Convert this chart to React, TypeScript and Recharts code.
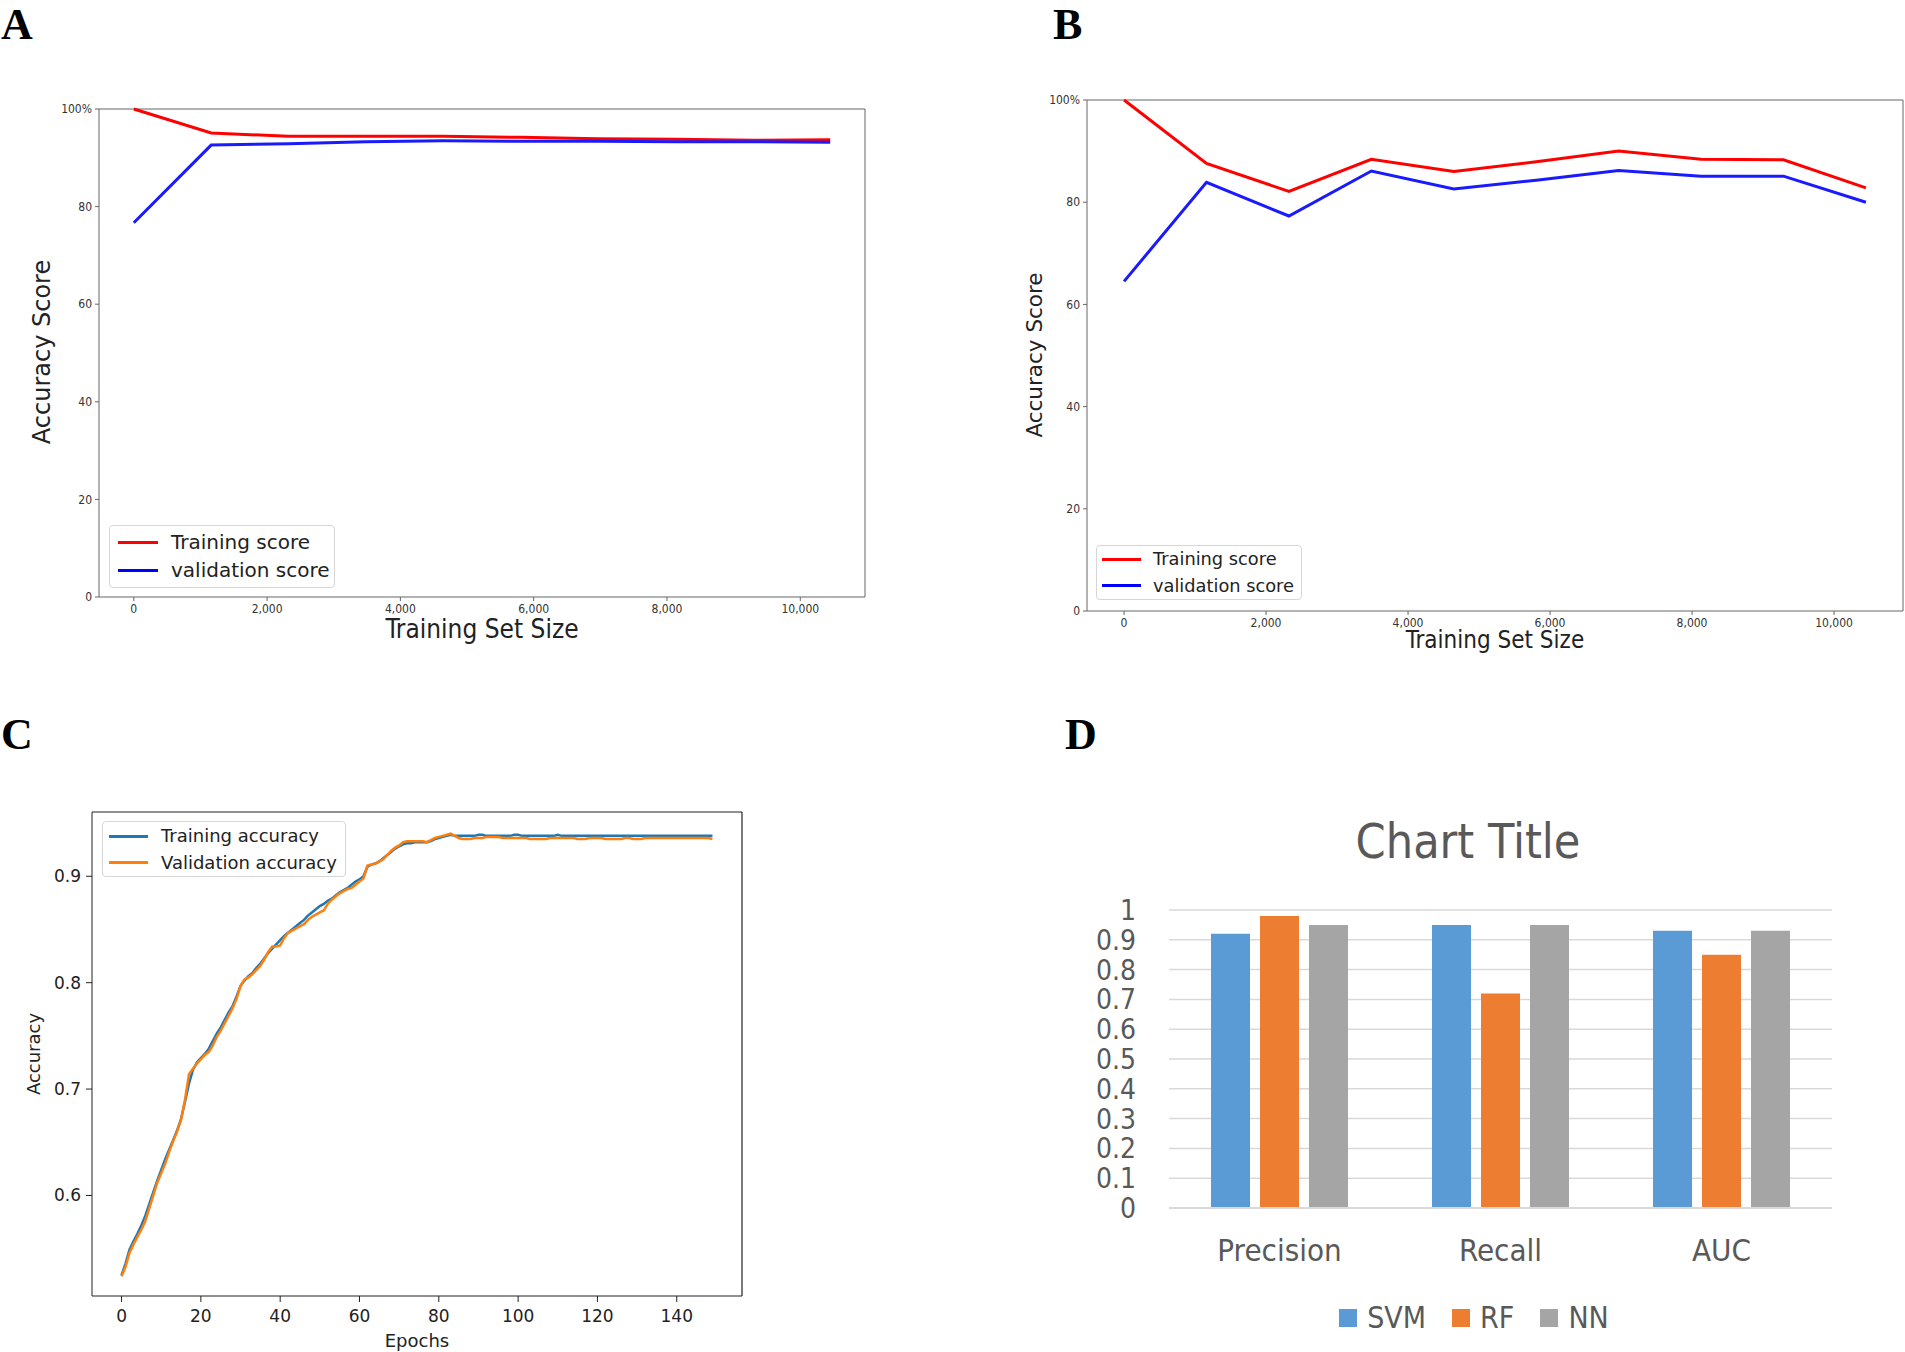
import React from 'react';
import { LineChart, Line, XAxis, YAxis, Legend, BarChart, Bar, CartesianGrid, ReferenceLine } from 'recharts';

// ---------- Panel A / B data ----------
const trainSizes = [0, 1161, 2322, 3483, 4644, 5805, 6966, 8127, 9288, 10449];
const aTraining = [100, 95.1, 94.4, 94.4, 94.4, 94.2, 93.9, 93.8, 93.6, 93.7];
const aValidation = [76.7, 92.6, 92.9, 93.3, 93.5, 93.4, 93.4, 93.3, 93.3, 93.2];
const bTraining = [100, 87.6, 82.1, 88.4, 86.0, 87.9, 90.0, 88.4, 88.3, 82.8];
const bValidation = [64.5, 83.9, 77.3, 86.1, 82.6, 84.3, 86.2, 85.1, 85.1, 80.0];
const sizeTicks = [0, 2000, 4000, 6000, 8000, 10000];
const scoreTicks = [0, 20, 40, 60, 80, 100];

// ---------- Panel C data ----------
const cTraining = [
  0.525, 0.536, 0.549, 0.557, 0.564, 0.572, 0.581, 0.592, 0.603, 0.614,
  0.624, 0.634, 0.643, 0.652, 0.661, 0.672, 0.688, 0.705, 0.718, 0.725,
  0.729, 0.733, 0.738, 0.745, 0.752, 0.758, 0.765, 0.772, 0.778, 0.787,
  0.797, 0.802, 0.806, 0.809, 0.814, 0.818, 0.823, 0.828, 0.832, 0.836,
  0.840, 0.844, 0.847, 0.850, 0.853, 0.856, 0.859, 0.863, 0.866, 0.869,
  0.872, 0.874, 0.877, 0.879, 0.882, 0.885, 0.887, 0.889, 0.892, 0.895,
  0.897, 0.900, 0.909, 0.911, 0.912, 0.914, 0.917, 0.920, 0.923, 0.926,
  0.928, 0.930, 0.931, 0.931, 0.932, 0.932, 0.932, 0.932, 0.933, 0.935,
  0.936, 0.937, 0.938, 0.939, 0.938, 0.938, 0.938, 0.938, 0.938, 0.938,
  0.939, 0.939, 0.938, 0.938, 0.938, 0.938, 0.938, 0.938, 0.938, 0.939,
  0.939, 0.938, 0.938, 0.938, 0.938, 0.938, 0.938, 0.938, 0.938, 0.938,
  0.939, 0.938, 0.938, 0.938, 0.938, 0.938, 0.938, 0.938, 0.938, 0.938,
  0.938, 0.938, 0.938, 0.938, 0.938, 0.938, 0.938, 0.938, 0.938, 0.938,
  0.938, 0.938, 0.938, 0.938, 0.938, 0.938, 0.938, 0.938, 0.938, 0.938,
  0.938, 0.938, 0.938, 0.938, 0.938, 0.938, 0.938, 0.938, 0.938, 0.938,
];
const cValidation = [
  0.524, 0.533, 0.546, 0.554, 0.561, 0.568, 0.576, 0.588, 0.600, 0.612,
  0.621, 0.630, 0.641, 0.651, 0.660, 0.671, 0.690, 0.714, 0.719, 0.724,
  0.728, 0.732, 0.735, 0.741, 0.749, 0.755, 0.762, 0.769, 0.776, 0.785,
  0.797, 0.803, 0.805, 0.808, 0.812, 0.816, 0.822, 0.829, 0.834, 0.834,
  0.835, 0.842, 0.847, 0.849, 0.851, 0.853, 0.855, 0.859, 0.862, 0.864,
  0.866, 0.868, 0.874, 0.878, 0.881, 0.884, 0.886, 0.888, 0.889, 0.892,
  0.895, 0.898, 0.910, 0.911, 0.912, 0.914, 0.916, 0.920, 0.924, 0.927,
  0.929, 0.932, 0.933, 0.933, 0.933, 0.933, 0.933, 0.932, 0.934, 0.936,
  0.937, 0.938, 0.939, 0.940, 0.938, 0.936, 0.935, 0.935, 0.935, 0.936,
  0.936, 0.936, 0.937, 0.937, 0.937, 0.937, 0.936, 0.936, 0.936, 0.936,
  0.936, 0.936, 0.936, 0.935, 0.935, 0.935, 0.935, 0.935, 0.936, 0.936,
  0.936, 0.936, 0.936, 0.936, 0.936, 0.935, 0.935, 0.935, 0.936, 0.936,
  0.936, 0.936, 0.935, 0.935, 0.935, 0.935, 0.935, 0.936, 0.936, 0.935,
  0.935, 0.935, 0.936, 0.936, 0.936, 0.936, 0.936, 0.936, 0.936, 0.936,
  0.936, 0.936, 0.936, 0.936, 0.936, 0.936, 0.936, 0.936, 0.936, 0.935,
];
const epochTicks = [0, 20, 40, 60, 80, 100, 120, 140];
const accTicks = [0.6, 0.7, 0.8, 0.9];

// ---------- Panel D data ----------
const metrics = ['Precision', 'Recall', 'AUC'];
const svmScores = [0.92, 0.95, 0.93];
const rfScores = [0.98, 0.72, 0.85];
const nnScores = [0.95, 0.95, 0.93];
const metricTicks = [0, 0.1, 0.2, 0.3, 0.4, 0.5, 0.6, 0.7, 0.8, 0.9, 1];

const aData = trainSizes.map((s, i) => ({ size: s, training: aTraining[i], validation: aValidation[i] }));
const bData = trainSizes.map((s, i) => ({ size: s, training: bTraining[i], validation: bValidation[i] }));
const cData = cTraining.map((v, i) => ({ epoch: i, training: v, validation: cValidation[i] }));
const dData = metrics.map((m, i) => ({ metric: m, SVM: svmScores[i], RF: rfScores[i], NN: nnScores[i] }));

const COND = "'DejaVu Sans Condensed', 'DejaVu Sans', sans-serif";
const DV = "'DejaVu Sans', sans-serif";
const NARROW = "'Liberation Sans Narrow', 'DejaVu Sans Condensed', sans-serif";
const SERIF = "'Liberation Serif', 'DejaVu Serif', serif";

const fmtThousands = (v: number) => v.toLocaleString('en-US');
const fmtPct = (v: number) => (v === 100 ? '100%' : String(v));
const fmtMetric = (v: number) => (v === 0 ? '0' : v === 1 ? '1' : v.toFixed(1));

type LegItem = { label: string; color: string };

function MplLegend(props: {
  items: LegItem[];
  fontSize: number;
  rowH: number;
  padTop: number;
  padLeft: number;
  lineLen: number;
  gap: number;
  font: string;
}) {
  const { items, fontSize, rowH, padTop, padLeft, lineLen, gap, font } = props;
  return (
    <div
      style={{
        width: '100%',
        height: '100%',
        boxSizing: 'border-box',
        border: '1px solid #d6d6d6',
        borderRadius: 4,
        background: 'rgba(255,255,255,0.85)',
        paddingTop: padTop,
        paddingLeft: padLeft,
      }}
    >
      {items.map((it) => (
        <div key={it.label} style={{ display: 'flex', alignItems: 'center', height: rowH }}>
          <div style={{ width: lineLen, height: 3, background: it.color }} />
          <span
            style={{
              marginLeft: gap,
              fontSize,
              fontFamily: font,
              color: '#222',
              lineHeight: 1,
              whiteSpace: 'nowrap',
            }}
          >
            {it.label}
          </span>
        </div>
      ))}
    </div>
  );
}

function CenterText(props: {
  x: number;
  y: number;
  text: string;
  size: number;
  font: string;
  color?: string;
  rotate?: boolean;
}) {
  const { x, y, text, size, font, color, rotate } = props;
  return (
    <div
      style={{
        position: 'absolute',
        left: x,
        top: y,
        transform: `translate(-50%, -50%)${rotate ? ' rotate(-90deg)' : ''}`,
        fontSize: size,
        fontFamily: font,
        color: color || '#222',
        whiteSpace: 'nowrap',
        lineHeight: 1,
      }}
    >
      {text}
    </div>
  );
}

function PanelLetter(props: { x: number; y: number; text: string }) {
  return (
    <div
      style={{
        position: 'absolute',
        left: props.x,
        top: props.y,
        fontSize: 44,
        lineHeight: '50px',
        fontFamily: SERIF,
        fontWeight: 'bold',
        color: '#000',
      }}
    >
      {props.text}
    </div>
  );
}

const scoreLegend = [
  { label: 'Training score', color: '#ff0000' },
  { label: 'validation score', color: '#0000ff' },
];
const accLegend = [
  { label: 'Training accuracy', color: '#1f77b4' },
  { label: 'Validation accuracy', color: '#ff7f0e' },
];
const metricLegend = [
  { label: 'SVM', color: '#5B9BD5' },
  { label: 'RF', color: '#ED7D31' },
  { label: 'NN', color: '#A5A5A5' },
];

const X_DOMAIN: [number, number] = [-522, 10971];
const C_X_DOMAIN: [number, number] = [-7.45, 156.45];
const C_Y_DOMAIN: [number, number] = [0.5055, 0.9604];

export default function App() {
  const smallTick = { fontSize: 12, fill: '#333', fontFamily: COND };
  return (
    <div style={{ position: 'absolute', left: 0, top: 0, width: 1905, height: 1352, background: '#fff', overflow: 'hidden' }}>
      {/* Panel A */}
      <div style={{ position: 'absolute', left: 0, top: 0 }}>
        <LineChart width={900} height={660} data={aData} margin={{ top: 109, right: 35, bottom: 0, left: 0 }}>
          <XAxis dataKey="size" type="number" domain={X_DOMAIN} ticks={sizeTicks} tickFormatter={fmtThousands}
            allowDataOverflow height={63} tickSize={4} tickMargin={3} stroke="#666" tick={smallTick} />
          <YAxis type="number" domain={[0, 100]} ticks={scoreTicks} tickFormatter={fmtPct} width={99}
            tickSize={4} tickMargin={3} stroke="#666" tick={smallTick} />
          <ReferenceLine y={100} stroke="#666" strokeWidth={1} />
          <ReferenceLine x={X_DOMAIN[1]} stroke="#666" strokeWidth={1} />
          <Line type="linear" dataKey="training" stroke="#ff0000" strokeWidth={3} dot={false} isAnimationActive={false} />
          <Line type="linear" dataKey="validation" stroke="#1a1aff" strokeWidth={3} dot={false} isAnimationActive={false} />
          <Legend layout="horizontal" verticalAlign="middle" align="center"
            wrapperStyle={{ left: 109, top: 525, width: 226, height: 63 }}
            content={() => (
              <MplLegend items={scoreLegend} fontSize={20} rowH={28} padTop={2} padLeft={8} lineLen={40} gap={13} font={DV} />
            )} />
        </LineChart>
      </div>

      {/* Panel B */}
      <div style={{ position: 'absolute', left: 1000, top: 0 }}>
        <LineChart width={905} height={680} data={bData} margin={{ top: 100, right: 2, bottom: 0, left: 0 }}>
          <XAxis dataKey="size" type="number" domain={X_DOMAIN} ticks={sizeTicks} tickFormatter={fmtThousands}
            allowDataOverflow height={69} tickSize={4} tickMargin={3} stroke="#666" tick={smallTick} />
          <YAxis type="number" domain={[0, 100]} ticks={scoreTicks} tickFormatter={fmtPct} width={87}
            tickSize={4} tickMargin={3} stroke="#666" tick={smallTick} />
          <ReferenceLine y={100} stroke="#666" strokeWidth={1} />
          <ReferenceLine x={X_DOMAIN[1]} stroke="#666" strokeWidth={1} />
          <Line type="linear" dataKey="training" stroke="#ff0000" strokeWidth={3} dot={false} isAnimationActive={false} />
          <Line type="linear" dataKey="validation" stroke="#1a1aff" strokeWidth={3} dot={false} isAnimationActive={false} />
          <Legend layout="horizontal" verticalAlign="middle" align="center"
            wrapperStyle={{ left: 96, top: 545, width: 206, height: 55 }}
            content={() => (
              <MplLegend items={scoreLegend} fontSize={17.8} rowH={26.6} padTop={0} padLeft={5} lineLen={39} gap={12} font={DV} />
            )} />
        </LineChart>
      </div>

      {/* Panel C */}
      <div style={{ position: 'absolute', left: 0, top: 700 }}>
        <LineChart width={800} height={652} data={cData} margin={{ top: 112, right: 58, bottom: 0, left: 0 }}>
          <XAxis dataKey="epoch" type="number" domain={C_X_DOMAIN} ticks={epochTicks} allowDataOverflow
            height={56} tickSize={6} tickMargin={8} stroke="#222" tick={{ fontSize: 17, fill: '#222', fontFamily: DV }} />
          <YAxis type="number" domain={C_Y_DOMAIN} ticks={accTicks} allowDataOverflow width={92}
            tickSize={6} tickMargin={5} stroke="#222" tick={{ fontSize: 17, fill: '#222', fontFamily: DV }} />
          <ReferenceLine y={C_Y_DOMAIN[1]} stroke="#222" strokeWidth={1.2} />
          <ReferenceLine x={C_X_DOMAIN[1]} stroke="#222" strokeWidth={1.2} />
          <Line type="linear" dataKey="training" stroke="#1f77b4" strokeWidth={2.5} dot={false} isAnimationActive={false} />
          <Line type="linear" dataKey="validation" stroke="#ff7f0e" strokeWidth={2.5} dot={false} isAnimationActive={false} />
          <Legend layout="horizontal" verticalAlign="middle" align="center"
            wrapperStyle={{ left: 102, top: 121, width: 244, height: 56 }}
            content={() => (
              <MplLegend items={accLegend} fontSize={18} rowH={26.6} padTop={1} padLeft={6} lineLen={39} gap={13} font={DV} />
            )} />
        </LineChart>
      </div>

      {/* Panel D */}
      <div style={{ position: 'absolute', left: 1050, top: 700 }}>
        <BarChart width={855} height={652} data={dData} margin={{ top: 210, right: 73, bottom: 74, left: 0 }}
          barCategoryGap={42} barGap={10}>
          <CartesianGrid vertical={false} stroke="#D9D9D9" strokeWidth={1.5} />
          <XAxis dataKey="metric" type="category" tickLine={false} axisLine={{ stroke: '#D9D9D9', strokeWidth: 2 }}
            height={70} tickSize={0} tickMargin={31} tick={{ fontSize: 31, fill: '#595959', fontFamily: NARROW }} />
          <YAxis type="number" domain={[0, 1]} ticks={metricTicks} tickFormatter={fmtMetric} axisLine={false}
            tickLine={false} width={119} tickSize={0} tickMargin={33} interval={0}
            tick={{ fontSize: 28, fill: '#595959', fontFamily: NARROW }} />
          <Bar dataKey="SVM" fill="#5B9BD5" isAnimationActive={false} />
          <Bar dataKey="RF" fill="#ED7D31" isAnimationActive={false} />
          <Bar dataKey="NN" fill="#A5A5A5" isAnimationActive={false} />
          <Legend layout="horizontal" verticalAlign="middle" align="center"
            wrapperStyle={{ left: 0, top: 600, width: 848, height: 36 }}
            content={() => (
              <div style={{ display: 'flex', justifyContent: 'center', alignItems: 'center', height: 36 }}>
                {metricLegend.map((it, i) => (
                  <div key={it.label} style={{ display: 'flex', alignItems: 'center', marginLeft: i === 0 ? 0 : 26 }}>
                    <div style={{ width: 18, height: 18, background: it.color }} />
                    <span style={{ marginLeft: 10, fontSize: 30, fontFamily: NARROW, color: '#595959', lineHeight: 1 }}>
                      {it.label}
                    </span>
                  </div>
                ))}
              </div>
            )} />
        </BarChart>
      </div>

      {/* Axis titles & headings */}
      <CenterText x={42} y={352} text="Accuracy Score" size={24} font={DV} rotate />
      <CenterText x={482} y={629} text="Training Set Size" size={26} font={COND} />
      <CenterText x={1035} y={355} text="Accuracy Score" size={21.5} font={DV} rotate />
      <CenterText x={1495} y={640} text="Training Set Size" size={24} font={COND} />
      <CenterText x={34} y={1054} text="Accuracy" size={18} font={DV} rotate />
      <CenterText x={417} y={1341} text="Epochs" size={18} font={DV} />
      <CenterText x={1468} y={841} text="Chart Title" size={48} font={NARROW} color="#595959" />

      <PanelLetter x={1} y={0} text="A" />
      <PanelLetter x={1053} y={0} text="B" />
      <PanelLetter x={1} y={710} text="C" />
      <PanelLetter x={1065} y={710} text="D" />
    </div>
  );
}
